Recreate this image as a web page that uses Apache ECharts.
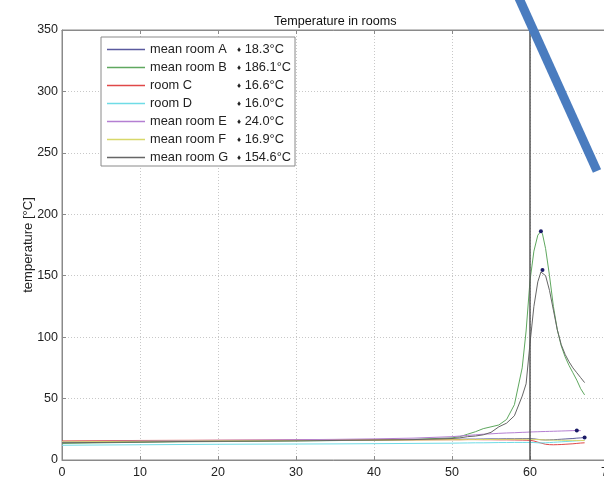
<!DOCTYPE html>
<html>
<head>
<meta charset="utf-8">
<script src="https://cdn.jsdelivr.net/npm/echarts@6/dist/echarts.min.js"></script>
<style>html,body{margin:0;padding:0;background:#fff;}#c{width:604px;height:481px;}</style>
</head>
<body>
<div id="c"></div>
<script>
const t = [0,5,10,15,20,25,30,35,40,45,50,51,52,53,54,55,56,57,58,59,59.5,60,60.5,61,61.4,61.6,62,62.5,63,63.5,64,64.5,65,65.5,66,66.5,67];
const roomA = [14.5,14.8,15.1,15.4,15.6,15.8,16.0,16.2,16.4,16.6,16.8, 16.9,17.0,17.0,17.1,17.2,17.2,17.3,17.3,17.4, 17.4,17.5,17.2,16.8,16.5,16.4,16.3,16.4,16.5,16.7,16.9,17.1,17.3,17.5,17.8,18.0,18.3];
const roomB = [13.5,14.0,14.4,14.8,15.0,15.2,15.5,15.8,16.2,16.8,18.0, 19,21,23,25.5,27,28.5,33,45,75, 105,146,170,183,186.1,184,172,150,125,106,93,84,77,71,65,58,53];
const roomC = [15.5,15.7,15.9,16.0,16.1,16.2,16.3,16.3,16.4,16.4,16.5, 16.5,16.6,16.6,16.5,16.5,16.4,16.4,16.3,16.2, 16.1,16.0,15.5,14.5,13.8,13.3,12.8,12.5,12.4,12.5,12.6,12.8,13.0,13.2,13.5,13.8,14.0];
const roomD = [12.0,12.2,12.4,12.6,12.8,12.9,13.0,13.1,13.3,13.5,13.7, 13.8,13.9,14.0,14.0,14.1,14.2,14.2,14.3,14.3, 14.3,14.3,14.2,14.0,13.9,13.9,14.0,14.2,14.4,14.6,14.8,15.0,15.2,15.4,15.6,15.8,16.0];
const roomE = [15.0,15.2,15.5,15.8,16.0,16.2,16.5,16.8,17.2,17.8,19.0, 19.5,20,20.5,21,21.3,21.7,22,22.2,22.5, 22.6,22.8,22.9,23.0,23.1,23.1,23.2,23.3,23.4,23.5,23.6,23.7,23.8,23.9,24.0,23.9,null];
const roomF = [14.8,15.0,15.2,15.4,15.6,15.7,15.8,16.0,16.1,16.3,16.5, 16.5,16.6,16.6,16.7,16.7,16.8,16.8,16.9,16.9, 16.9,16.9,16.8,16.6,16.5,16.4,16.3,16.2,16.2,16.1,16.1,16.0,16.0,16.0,15.9,15.9,15.8];
const roomG = [14.0,14.3,14.6,15.0,15.2,15.4,15.6,15.9,16.2,16.6,17.5, 18,19,19.5,20.5,22.5,27,30,36,52, 62,95,125,145,153,154.6,150,138,122,106,94,86,80,75,71,67,63];

const names = ['mean room A','mean room B','room C','room D','mean room E','mean room F','mean room G'];
const maxLabels = ['18.3','186.1','16.6','16.0','24.0','16.9','154.6'];
const colors = ['#5a5a9e','#5fa85f','#e04848','#6fdce6','#b47fd2','#d8d86a','#666666'];
const values = [roomA, roomB, roomC, roomD, roomE, roomF, roomG];
const showMax = [true, true, false, false, true, false, true];
const markerX = 60;

const font = 'Liberation Sans, Arial, sans-serif';
const chart = echarts.init(document.getElementById('c'), null, {renderer:'canvas'});

const series = names.map((n, i) => {
  const s = {
    name: n,
    type: 'line',
    symbol: 'none',
    lineStyle: {width: 1, color: colors[i]},
    itemStyle: {color: colors[i]},
    data: t.map((x, k) => [x, values[i][k]]),
    z: 3
  };
  if (showMax[i]) {
    s.markPoint = {
      symbol: 'circle', symbolSize: 4,
      itemStyle: {color: '#1a1a66'},
      label: {show: false},
      data: [{type: 'max'}]
    };
  }
  return s;
});
series[0].markLine = {
  symbol: 'none', silent: true,
  label: {show: false},
  lineStyle: {color: '#555', width: 1.5, type: 'solid'},
  data: [{xAxis: markerX}]
};

chart.setOption({
  backgroundColor: '#fff',
  animation: false,
  title: {
    text: 'Temperature in rooms',
    left: 269, top: 10,
    textStyle: {fontFamily: font, fontSize: 12.6, fontWeight: 'normal', color: '#111'}
  },
  grid: {left: 62, top: 30, width: 546, height: 430, outerBoundsMode: 'none', containLabel: false,
    show: true, borderColor: '#8a8a8a', borderWidth: 1, backgroundColor: '#fff'},
  legend: {
    orient: 'vertical', left: 101, top: 37,
    backgroundColor: '#fff', borderColor: '#8a8a8a', borderWidth: 1, borderRadius: 0,
    padding: [6, 4, 2, 6],
    itemWidth: 38, itemHeight: 1.6, itemGap: 5,
    icon: 'rect',
    data: names,
    formatter: function (n) {
      const i = names.indexOf(n);
      return '{n|' + n + '}{d|♦}{v| ' + maxLabels[i] + '°C}';
    },
    textStyle: {
      fontFamily: font, fontSize: 12.8, color: '#222',
      rich: {
        n: {width: 87, fontFamily: font, fontSize: 12.8, color: '#222'},
        d: {fontSize: 8, color: '#222'},
        v: {fontFamily: font, fontSize: 12.8, color: '#222'}
      }
    }
  },
  xAxis: [{
    type: 'value', min: 0, max: 70, interval: 10,
    axisLine: {show: true, lineStyle: {color: '#8a8a8a'}},
    axisTick: {show: true, inside: true, length: 4, lineStyle: {color: '#8a8a8a'}},
    axisLabel: {fontFamily: font, fontSize: 12.5, color: '#222', margin: 6},
    splitLine: {show: true, lineStyle: {color: '#c8c8c8', type: [1, 2]}}
  }, {
    type: 'value', min: 0, max: 70, interval: 10, position: 'top',
    axisLine: {show: true, lineStyle: {color: '#8a8a8a'}},
    axisTick: {show: true, inside: true, length: 4, lineStyle: {color: '#8a8a8a'}},
    axisLabel: {show: false}, splitLine: {show: false}
  }],
  yAxis: [{
    type: 'value', min: 0, max: 350, interval: 50,
    name: 'temperature [°C]', nameLocation: 'middle', nameGap: 27, nameMoveOverlap: false,
    nameTextStyle: {fontFamily: font, fontSize: 13, color: '#222'},
    axisLine: {show: true, lineStyle: {color: '#8a8a8a'}},
    axisTick: {show: true, inside: true, length: 4, lineStyle: {color: '#8a8a8a'}},
    axisLabel: {fontFamily: font, fontSize: 12.5, color: '#222', margin: 4},
    splitLine: {show: true, lineStyle: {color: '#c8c8c8', type: [1, 2]}}
  }],
  series: series,
  graphic: [{
    type: 'line', z: 100,
    shape: {x1: 518, y1: -4, x2: 597, y2: 171},
    style: {stroke: '#4a7cbf', lineWidth: 9, lineCap: 'butt'}
  }]
});
</script>
</body>
</html>
